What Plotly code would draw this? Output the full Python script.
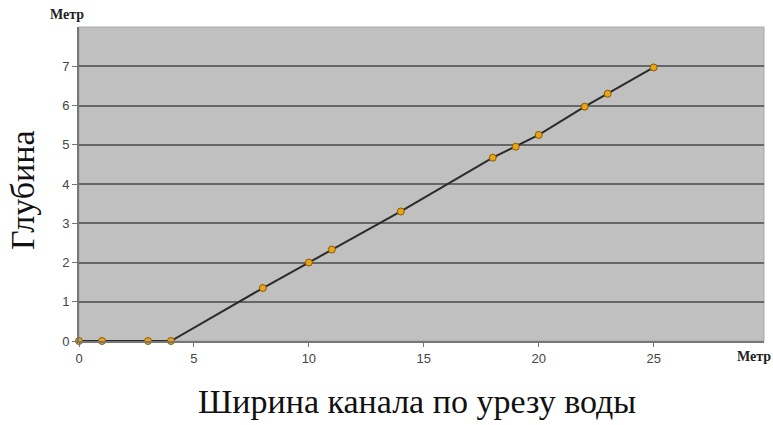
import plotly.graph_objects as go

# Channel cross-section: width along the water edge vs depth (metres)
width_m = [0, 1, 3, 4, 8, 10, 11, 14, 18, 19, 20, 22, 23, 25]
depth_m = [0, 0, 0, 0, 1.35, 2.0, 2.33, 3.3, 4.67, 4.95, 5.25, 5.97, 6.3, 6.97]

x_ticks = [0, 5, 10, 15, 20, 25]
y_ticks = [0, 1, 2, 3, 4, 5, 6, 7]

serif = "Liberation Serif, Times New Roman, serif"

fig = go.Figure()
fig.add_trace(go.Scatter(
    x=width_m, y=depth_m, mode="lines+markers",
    line=dict(color="#2b2b2b", width=2),
    marker=dict(size=7, color="#e8a317", line=dict(color="#8a5a00", width=1)),
    cliponaxis=False, showlegend=False,
))

fig.update_layout(
    width=773, height=425,
    margin=dict(l=79, r=9, t=27, b=84),
    paper_bgcolor="white", plot_bgcolor="#c0c0c0",
    font=dict(family="Liberation Sans, Arial, sans-serif", color="#444"),
    xaxis=dict(
        range=[0, 29.8], tickvals=x_ticks, showgrid=False, zeroline=False,
        showline=True, linecolor="#777", linewidth=2, mirror=False,
        ticks="outside", ticklen=4, tickcolor="#777",
        tickfont=dict(size=13, color="#444"),
    ),
    yaxis=dict(
        range=[0, 8.0], tickvals=y_ticks, showgrid=True, gridcolor="#666",
        gridwidth=2, zeroline=False, showline=True, linecolor="#777",
        linewidth=2, ticks="outside", ticklen=5, tickcolor="#777",
        tickfont=dict(size=13, color="#444"),
    ),
    shapes=[dict(type="rect", xref="paper", yref="paper", x0=0, x1=1, y0=0, y1=1,
                 line=dict(color="#a8a8a8", width=1), layer="below")],
    annotations=[
        dict(text="<b>Метр</b>", xref="paper", yref="paper", x=-0.0175, y=1.0,
             xanchor="center", yanchor="bottom", yshift=3, showarrow=False,
             font=dict(family=serif, size=14, color="#222")),
        dict(text="<b>Метр</b>", xref="paper", yref="paper", x=1.0, y=0,
             xanchor="right", yanchor="top", xshift=9, yshift=-6, showarrow=False,
             font=dict(family=serif, size=14, color="#222")),
        dict(text="Ширина канала по урезу воды", xref="paper", yref="paper", x=0.494, y=0,
             xanchor="center", yanchor="top", yshift=-40, showarrow=False,
             font=dict(family=serif, size=34, color="#111")),
        dict(text="Глубина", xref="paper", yref="paper", x=0, y=0.478, textangle=-90,
             xanchor="center", yanchor="middle", xshift=-56, showarrow=False,
             font=dict(family=serif, size=34, color="#111")),
    ],
)

fig.write_html("out.html")
